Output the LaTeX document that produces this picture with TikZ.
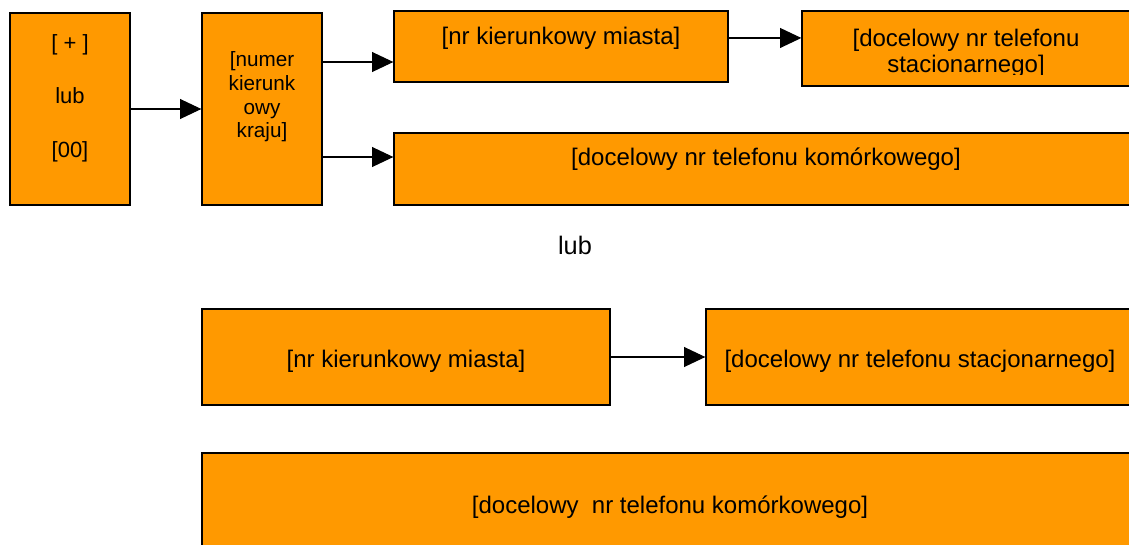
\documentclass[tikz,border=0pt]{standalone}
\usepackage{fontspec}
\setmainfont{Liberation Sans}
\usetikzlibrary{arrows.meta}
\definecolor{boxorange}{HTML}{FF9900}
\tikzstyle{block} = [draw, fill=boxorange, rectangle, line width=1pt, inner sep=0pt]
\tikzstyle{txt} = [align=center, inner sep=0pt, font=\fontsize{18}{21}\selectfont]
\tikzstyle{arrow} = [-{Triangle[length=16pt,width=15pt]}, line width=0.8pt]

\begin{document}
\begin{tikzpicture}[x=0.75pt, y=-0.75pt]
    \useasboundingbox (0,0) rectangle (1129,544);

    % first variant
    \node [block, minimum width=90pt, minimum height=144pt] (pfx) at (70,109) {};
    \node [block, minimum width=90pt, minimum height=144pt] (kraj) at (262,109) {};
    \node [block, minimum width=250.5pt, minimum height=53.25pt] (miasto) at (561,46.5) {};
    \node [block, minimum width=249pt, minimum height=56.25pt] (stac) at (968,48.5) {};
    \node [block, minimum width=555pt, minimum height=54pt] (kom) at (764,169) {};

    \node [txt, font=\fontsize{16.5}{40}\selectfont] (pfxtxt) at (70,98) {{[ + ]}\\lub\\{[00]}};
    \node [txt, font=\fontsize{15.5}{17.8}\selectfont] (krajtxt) at (262,97) {[numer\\kierunk\\owy\\kraju]};
    \node [txt] (miastotxt) at (561,38) {[nr kierunkowy miasta]};
    \begin{scope}
        \clip (stac.north west) rectangle ([yshift=9pt]stac.south east);
        \node [txt, font=\fontsize{18}{19.5}\selectfont] (stactxt) at (966,53) {[docelowy nr telefonu\\stacionarnego]};
    \end{scope}
    \node [txt] (komtxt) at (766,159) {[docelowy nr telefonu komórkowego]};

    \coordinate (kraj1) at ([yshift=35.25pt]kraj.east);
    \coordinate (kraj2) at ([yshift=-36pt]kraj.east);
    \coordinate (miasto1) at ([yshift=6.4pt]miasto.east);
    \draw [arrow] (pfx) -- (kraj);
    \draw [arrow] (kraj1) -- (miasto.west |- kraj1);
    \draw [arrow] (kraj2) -- (kom.west |- kraj2);
    \draw [arrow] (miasto1) -- (stac.west |- miasto1);

    \node [txt, font=\fontsize{19}{21}\selectfont] (lub) at (575,245) {lub};

    % second variant
    \node [block, minimum width=306pt, minimum height=72pt] (miasto2) at (406,357) {};
    \node [block, minimum width=321pt, minimum height=72pt] (stac2) at (920,357) {};
    \node [block, minimum width=703.5pt, minimum height=72.75pt] (kom2) at (671,501.5) {};

    \node [txt] (miasto2txt) at (406,361) {[nr kierunkowy miasta]};
    \node [txt] (stac2txt) at (920,361) {[docelowy nr telefonu stacjonarnego]};
    \node [txt] (kom2txt) at (670,507) {[docelowy\ \ nr telefonu komórkowego]};

    \draw [arrow] (miasto2) -- (stac2);
\end{tikzpicture}
\end{document}
